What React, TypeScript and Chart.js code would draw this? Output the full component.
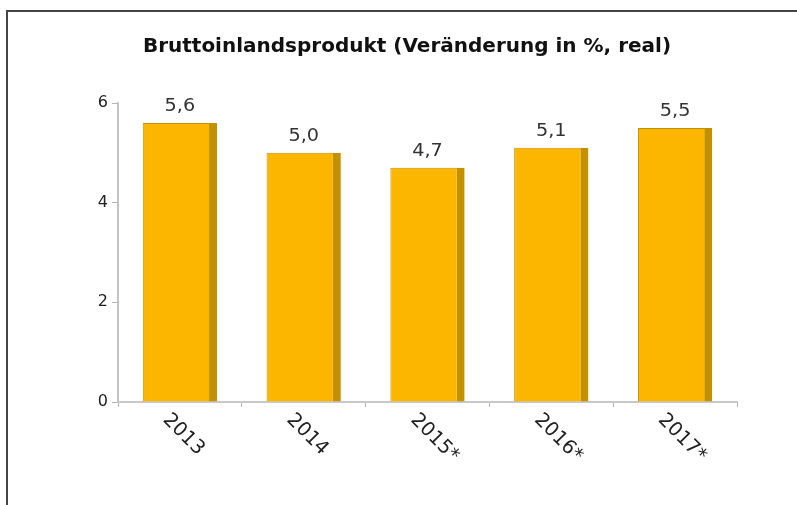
import React, { useEffect, useRef } from "react";
import { Chart, registerables } from "chart.js";
Chart.register(...registerables);

const categories = ["2013", "2014", "2015*", "2016*", "2017*"];
const values = [5.6, 5.0, 4.7, 5.1, 5.5];
const yTicks = [0, 2, 4, 6];
const title = "Bruttoinlandsprodukt (Veränderung in %, real)";

const valueLabels = values.map((v) => v.toFixed(1).replace(".", ","));

const FRONT = "#FDB600";
const SIDE = "#C39000";
const FONT = '"DejaVu Sans", sans-serif';

const decor = {
  id: "decor",
  afterDatasetsDraw(chart: any) {
    const ctx = chart.ctx;
    const meta = chart.getDatasetMeta(0);
    const xs = chart.scales.x;
    ctx.save();
    ctx.fillStyle = "#333";
    ctx.font = `17.5px ${FONT}`;
    ctx.textAlign = "center";
    ctx.textBaseline = "alphabetic";
    meta.data.forEach((bar: any, i: number) => {
      ctx.save();
      ctx.translate(bar.x, bar.y - 12);
      ctx.scale(1.1, 1);
      ctx.fillText(valueLabels[i], 0, 0);
      ctx.restore();
    });
    ctx.fillStyle = "#222";
    ctx.font = `19.5px ${FONT}`;
    ctx.textAlign = "left";
    ctx.textBaseline = "middle";
    categories.forEach((c, i) => {
      const x = xs.getPixelForValue(i);
      ctx.save();
      ctx.translate(x - 14, xs.top + 15);
      ctx.rotate(Math.PI / 4);
      ctx.fillText(c, 0, 0);
      ctx.restore();
    });
    ctx.font = `bold 20px ${FONT}`;
    ctx.fillStyle = "#111";
    ctx.textAlign = "center";
    ctx.textBaseline = "middle";
    ctx.fillText(title, 407, 47);
    ctx.restore();
  },
};

export default function App() {
  const ref = useRef<HTMLCanvasElement>(null);
  useEffect(() => {
    document.body.style.margin = "0";
    const canvas = ref.current!;
    const chart = new Chart(canvas, {
      type: "bar",
      data: {
        labels: categories,
        datasets: [
          {
            data: values,
            backgroundColor: FRONT,
            borderColor: SIDE,
            borderWidth: { left: 1, top: 1, right: 8, bottom: 0 } as any,
            barPercentage: 0.6,
            categoryPercentage: 1,
          },
        ],
      },
      options: {
        responsive: false,
        animation: false,
        layout: { padding: { left: 0, right: 60, top: 103, bottom: 0 } },
        plugins: {
          legend: { display: false },
          title: { display: false },
          tooltip: { enabled: false },
        },
        scales: {
          x: {
            grid: { drawOnChartArea: false, drawTicks: true, tickLength: 5, color: "#b4b4b4", lineWidth: 1, offset: true },
            border: { color: "#c8c8c8", width: 2 },
            ticks: { display: false },
            afterFit: (s: any) => {
              s.height = 103;
            },
          },
          y: {
            min: 0,
            max: 6,
            ticks: {
              stepSize: 2,
              color: "#222",
              font: { family: FONT, size: 16 },
              padding: 4,
            },
            afterBuildTicks: (s: any) => {
              s.ticks = yTicks.map((v) => ({ value: v }));
            },
            grid: { drawOnChartArea: false, drawTicks: true, tickLength: 6, color: "#b4b4b4" },
            border: { color: "#c4c4c4", width: 2 },
            afterFit: (s: any) => {
              s.width = 118;
            },
          },
        },
      },
      plugins: [decor],
    });
    return () => chart.destroy();
  }, []);
  return (
    <div style={{ position: "relative", width: 797, height: 505, background: "#fff", overflow: "hidden" }}>
      <div
        style={{
          position: "absolute",
          left: 6,
          top: 10,
          width: 820,
          height: 520,
          borderLeft: "2px solid #444",
          borderTop: "2px solid #444",
        }}
      />
      <canvas ref={ref} width={797} height={505} style={{ position: "absolute", left: 0, top: 0 }} />
    </div>
  );
}
